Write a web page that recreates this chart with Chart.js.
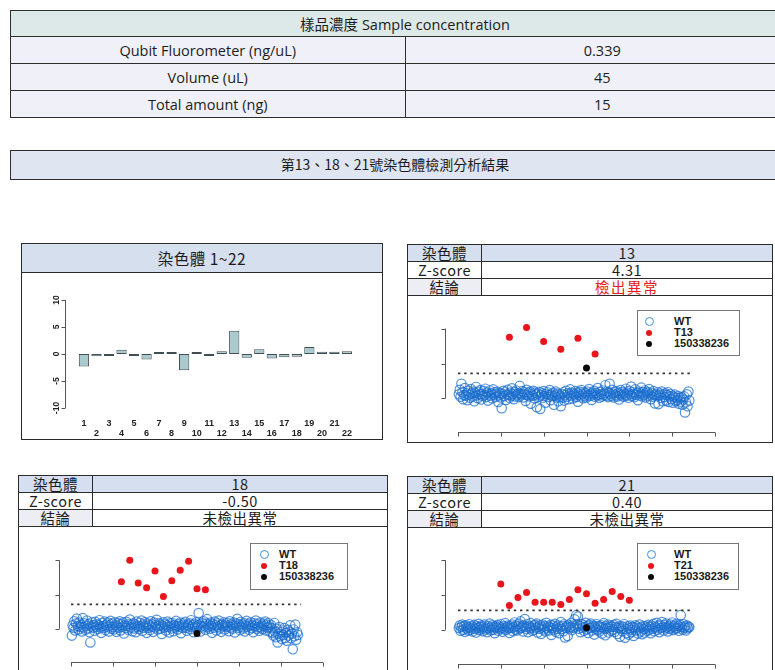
<!DOCTYPE html>
<html>
<head>
<meta charset="utf-8">
<script src="https://cdn.jsdelivr.net/npm/chart.js@4.4.0/dist/chart.umd.min.js"></script>
<style>
  body { margin:0; width:775px; height:670px; overflow:hidden; background:#fff; position:relative;
         font-family:"Noto Sans CJK TC","Noto Sans",sans-serif; color:#1c1c1c; }
  .conc { position:absolute; left:10px; width:790px; border-collapse:collapse; table-layout:fixed;
          border:1.5px solid #2e2e2e; font-family:"Open Sans","Noto Sans CJK TC",sans-serif; font-size:14.5px; }
  .conc td { border:1px solid #2e2e2e; text-align:center; padding:0; background:#f0f1f8; white-space:nowrap; }
  .conc td.hd { background:#dde9e8; }
  .banner { position:absolute; left:10px; top:150px; width:790px; height:30px; box-sizing:border-box;
            border:1.5px solid #2e2e2e; background:#dfe6f1; font-size:14px; line-height:27px;
            text-align:center; padding-right:20px; }
  .panel { position:absolute; border:1.5px solid #2b2b2b; box-sizing:border-box; background:#fff; }
  .bhd { height:28px; line-height:28px; background:#d6dfee; border-bottom:1px solid #2b2b2b;
         text-align:center; font-size:15.5px; letter-spacing:0.5px; }
  .info { width:100%; border-collapse:collapse; table-layout:fixed; }
  .info td { height:16px; line-height:16px; border-bottom:1px solid #2b2b2b; font-size:14.5px;
             text-align:center; padding:0; white-space:nowrap; letter-spacing:0.5px; }
  .info td.k { width:73px; border-right:1px solid #2b2b2b; }
  .info td.hd { background:#d5dff0; }
  .info td.sh { background:#eceef4; }
  .info td.alert { color:#e3201b; letter-spacing:1.5px; }
  canvas { position:absolute; }
  .legend { position:absolute; border:1px solid #777; background:#fff; box-sizing:border-box;
            padding-top:5px; font:bold 11px "Liberation Sans",Arial,sans-serif; color:#1a1a1a; }
  .legend div { height:11px; line-height:11px; position:relative; }
  .legend span { position:absolute; top:2px; border-radius:50%; box-sizing:border-box; }
  .legend .wt { width:9px; height:9px; border:1.5px solid #3a8fdc; top:1px; }
  .legend .tri { width:6px; height:6px; background:#e8151b; top:2.5px; }
  .legend .smp { width:6px; height:6px; background:#0b0b0b; top:2.5px; }
</style>
</head>
<body>

<table class="conc" style="top:10px">
  <tr style="height:26px"><td class="hd" colspan="2">樣品濃度 Sample concentration</td></tr>
  <tr style="height:27px"><td style="width:390px">Qubit Fluorometer (ng/uL)</td><td>0.339</td></tr>
  <tr style="height:27px"><td>Volume (uL)</td><td>45</td></tr>
  <tr style="height:27px"><td>Total amount (ng)</td><td>15</td></tr>
</table>

<div class="banner">第13、18、21號染色體檢測分析結果</div>

<div class="panel" style="left:21px;top:243px;width:362px;height:197px">
  <div class="bhd">染色體 1~22</div>
</div>

<div class="panel" style="left:407px;top:244px;width:366px;height:199px">
  <table class="info">
    <tr><td class="k hd">染色體</td><td class="hd">13</td></tr>
    <tr><td class="k">Z-score</td><td>4.31</td></tr>
    <tr><td class="k sh">結論</td><td class="alert">檢出異常</td></tr>
  </table>
</div>

<div class="panel" style="left:18px;top:475px;width:370px;height:210px">
  <table class="info">
    <tr><td class="k hd">染色體</td><td class="hd">18</td></tr>
    <tr><td class="k">Z-score</td><td>-0.50</td></tr>
    <tr><td class="k sh">結論</td><td>未檢出異常</td></tr>
  </table>
</div>

<div class="panel" style="left:407px;top:476px;width:366px;height:210px">
  <table class="info">
    <tr><td class="k hd">染色體</td><td class="hd">21</td></tr>
    <tr><td class="k">Z-score</td><td>0.40</td></tr>
    <tr><td class="k sh">結論</td><td>未檢出異常</td></tr>
  </table>
</div>

<canvas id="bars" width="361" height="167" style="left:21px;top:272px"></canvas>
<canvas id="chr13" width="364" height="145" style="left:408px;top:296px"></canvas>
<canvas id="chr18" width="368" height="143" style="left:19px;top:527px"></canvas>
<canvas id="chr21" width="364" height="143" style="left:408px;top:527px"></canvas>

<div class="legend" style="left:637px;top:310px;width:103px;height:46px">
  <div><span class="wt" style="left:7px"></span><span style="left:36px;position:absolute;top:0">WT</span></div>
  <div><span class="tri" style="left:8px"></span><span style="left:36px;position:absolute;top:0">T13</span></div>
  <div><span class="smp" style="left:8px"></span><span style="left:36px;position:absolute;top:0">150338236</span></div>
</div>
<div class="legend" style="left:250px;top:543px;width:98px;height:47px">
  <div><span class="wt" style="left:9px"></span><span style="left:28px;position:absolute;top:0">WT</span></div>
  <div><span class="tri" style="left:10px"></span><span style="left:28px;position:absolute;top:0">T18</span></div>
  <div><span class="smp" style="left:10px"></span><span style="left:28px;position:absolute;top:0">150338236</span></div>
</div>
<div class="legend" style="left:637px;top:543px;width:102px;height:47px">
  <div><span class="wt" style="left:9px"></span><span style="left:36px;position:absolute;top:0">WT</span></div>
  <div><span class="tri" style="left:10px"></span><span style="left:36px;position:absolute;top:0">T21</span></div>
  <div><span class="smp" style="left:10px"></span><span style="left:36px;position:absolute;top:0">150338236</span></div>
</div>

<script>
// z-scores of autosomes 1..22
const chromosomes = ['1','2','3','4','5','6','7','8','9','10','11','12','13','14','15','16','17','18','19','20','21','22'];
const chrZ = [-2.3, -0.4, -0.2, 0.8, -0.15, -1.0, 0.1, 0.1, -3.0, 0.05, -0.2, 0.5,
              4.31, -0.7, 0.9, -0.85, -0.6, -0.50, 1.3, 0.4, 0.40, 0.5];
const barTicks = [-10, -5, 0, 5, 10];

// reference (WT) samples, one value per sample index
const wt13 = [
  0.12, 0.25, 0.05, 0.42, 0.18, -0.02, 0.10, 0.30, 0.08, 0.15, -0.05, 0.22, 0.11, 0.02, 0.27,
  0.14, 0.06, 0.20, -0.08, 0.16, 0.33, 0.09, 0.01, 0.19, 0.12, 0.24, -0.03, 0.13, 0.07, 0.21,
  0.10, 0.28, 0.04, 0.17, -0.06, 0.12, 0.23, 0.08, 0.15, 0.00, 0.26, 0.11, 0.18, 0.05, 0.14,
  0.20, -0.10, 0.09, 0.16, 0.03, -0.28, 0.13, 0.22, 0.07, 0.18, -0.04, 0.12, 0.25, 0.10, 0.02,
  0.17, 0.08, 0.29, 0.13, -0.02, 0.19, 0.06, 0.23, 0.11, 0.15, 0.04, 0.36, 0.14, 0.09, 0.21,
  0.03, 0.18, 0.12, -0.07, 0.25, 0.10, 0.16, 0.06, 0.20, -0.15, 0.13, 0.08, 0.22, 0.01, 0.17,
  0.11, -0.25, 0.14, 0.05, 0.19, -0.30, 0.09, 0.15, 0.02, 0.21, 0.07, -0.12, 0.13, 0.18, 0.04,
  0.10, 0.24, -0.05, 0.12, 0.07, 0.16, -0.18, 0.09, 0.20, 0.03, 0.14, -0.08, 0.11, 0.06, -0.22,
  0.13, 0.02, 0.18, -0.06, 0.10, 0.22, 0.05, 0.15, -0.02, 0.12, 0.26, 0.08, 0.17, 0.00, 0.14,
  0.09, 0.21, 0.04, 0.16, -0.09, 0.11, 0.19, 0.06, 0.24, 0.13, 0.01, 0.18, 0.08, 0.15, 0.03,
  0.20, 0.10, 0.27, 0.07, 0.14, -0.04, 0.17, 0.12, 0.22, 0.05, 0.16, 0.09, 0.30, 0.11, 0.02,
  0.19, 0.13, 0.06, 0.23, 0.10, 0.15, 0.38, 0.08, 0.20, 0.04, 0.17, 0.42, 0.12, 0.07, 0.25,
  0.14, 0.03, 0.18, 0.10, 0.21, 0.06, 0.16, -0.03, 0.13, 0.24, 0.09, 0.19, 0.05, 0.15, 0.11,
  0.28, 0.08, 0.17, 0.02, 0.22, 0.12, 0.34, 0.07, 0.18, 0.13, 0.04, 0.26, 0.10, 0.16, -0.05,
  0.20, 0.09, 0.14, 0.31, 0.06, 0.18, 0.11, 0.23, 0.03, 0.15, 0.19, 0.08, 0.27, 0.12, -0.02,
  0.16, 0.05, 0.21, 0.10, -0.14, 0.13, 0.07, 0.18, -0.16, 0.09, 0.14, 0.02, 0.20, -0.08, 0.11,
  0.04, 0.15, -0.06, 0.10, 0.18, -0.10, 0.06, 0.13, -0.02, 0.08, -0.12, 0.05, 0.11, -0.07, 0.02,
  -0.05, 0.07, -0.15, 0.01, -0.09, 0.04, -0.18, -0.03, 0.06, -0.40, -0.11, 0.12, -0.22, 0.20, -0.06
];
const wt18 = [
  -0.20, 0.10, 0.02, 0.22, -0.05, 0.15, 0.30, 0.08, -0.02, 0.18, 0.05, 0.12, -0.08, 0.31, 0.04,
  0.16, -0.03, 0.09, 0.24, 0.01, 0.13, -0.10, -0.40, 0.07, 0.19, 0.03, 0.11, -0.06, 0.20, 0.06,
  0.14, -0.01, 0.10, 0.25, 0.04, -0.12, 0.17, 0.08, 0.02, 0.21, -0.04, 0.12, 0.06, 0.18, -0.08,
  0.09, 0.23, 0.00, 0.15, 0.05, -0.02, 0.19, 0.11, -0.09, 0.07, 0.16, 0.03, 0.22, -0.05, 0.12,
  0.06, 0.18, -0.14, 0.10, 0.02, 0.20, 0.08, -0.03, 0.14, 0.27, 0.04, 0.11, -0.07, 0.16, 0.01,
  0.13, -0.10, 0.21, 0.05, 0.09, -0.01, 0.17, 0.07, 0.24, -0.06, 0.12, 0.03, 0.19, 0.08, -0.12,
  0.15, 0.02, 0.10, -0.04, 0.22, 0.06, 0.13, -0.09, 0.18, 0.04, 0.11, 0.26, -0.02, 0.08, 0.16,
  0.00, 0.12, -0.15, 0.07, 0.19, 0.03, 0.14, -0.05, 0.10, 0.21, 0.05, -0.11, 0.16, 0.09, 0.01,
  0.17, -0.07, 0.11, 0.04, 0.23, 0.08, -0.02, 0.13, 0.06, 0.18, -0.13, 0.10, 0.02, 0.15, 0.07,
  0.20, 0.03, -0.06, 0.12, 0.09, 0.16, -0.01, 0.25, 0.05, 0.11, -0.10, 0.14, 0.06, 0.19, 0.02,
  0.10, 0.46, 0.13, -0.08, 0.07, 0.17, 0.04, 0.22, 0.09, -0.03, 0.15, 0.28, 0.06, 0.12, 0.00,
  0.18, 0.08, -0.12, 0.14, 0.03, 0.21, 0.10, -0.05, 0.16, 0.06, 0.24, 0.01, 0.11, -0.09, 0.13,
  0.07, 0.19, -0.02, 0.12, 0.05, 0.17, 0.09, -0.07, 0.22, 0.04, 0.14, 0.00, 0.10, 0.18, -0.11,
  0.08, 0.15, 0.29, 0.03, 0.12, -0.04, 0.20, 0.06, 0.13, 0.01, 0.17, -0.08, 0.10, 0.23, 0.05,
  0.14, -0.03, 0.09, 0.19, 0.02, 0.11, -0.10, 0.16, 0.07, 0.24, 0.00, 0.13, 0.05, -0.06, 0.18,
  0.04, 0.10, -0.01, 0.15, 0.08, 0.21, -0.05, 0.12, 0.03, 0.17, 0.06, -0.09, 0.11, 0.02, -0.12,
  -0.20, 0.17, -0.08, -0.25, 0.00, -0.40, -0.15, 0.05, -0.22, -0.10, -0.30, -0.05, -0.18, 0.02, -0.27,
  -0.12, -0.35, -0.03, -0.20, -0.08, 0.10, -0.28, -0.14, -0.60, -0.02, -0.22, 0.12, -0.32, -0.10, -0.18
];
const wt21 = [
  0.05, 0.12, -0.03, 0.08, 0.15, 0.00, 0.10, -0.06, 0.13, 0.04, 0.09, -0.02, 0.16, 0.06, 0.01,
  0.11, -0.05, 0.07, 0.14, 0.02, -0.08, 0.10, 0.05, 0.17, -0.01, 0.08, 0.12, 0.03, -0.04, 0.09,
  0.15, 0.01, 0.06, -0.07, 0.11, 0.04, 0.18, -0.02, 0.08, 0.13, 0.00, 0.07, -0.10, 0.10, 0.05,
  0.14, -0.03, 0.09, 0.02, 0.16, 0.06, -0.06, 0.11, 0.03, 0.19, -0.01, 0.08, 0.12, 0.04, -0.09,
  0.10, 0.05, 0.15, -0.04, 0.07, 0.21, 0.01, 0.12, -0.02, 0.09, 0.17, 0.03, 0.24, 0.06, 0.11,
  -0.05, 0.13, 0.31, 0.08, 0.02, 0.16, -0.07, 0.10, 0.04, 0.19, 0.07, -0.03, 0.12, 0.00, 0.14,
  0.06, 0.18, -0.08, 0.09, 0.03, 0.13, -0.12, 0.07, 0.15, 0.01, 0.10, -0.05, 0.20, 0.04, 0.11,
  -0.02, 0.08, 0.14, -0.15, 0.05, 0.12, 0.00, 0.17, -0.06, 0.09, 0.03, 0.13, -0.10, 0.07, 0.22,
  0.02, 0.11, -0.04, 0.16, -0.22, 0.06, 0.10, -0.18, 0.14, 0.04, 0.08, 0.19, -0.01, 0.12, 0.05,
  0.30, 0.09, 0.42, 0.15, 0.38, 0.03, 0.11, -0.07, 0.17, 0.06, 0.13, -0.03, 0.08, 0.20, 0.01,
  0.10, -0.09, 0.14, 0.05, 0.18, -0.02, 0.07, 0.12, -0.14, 0.09, 0.03, 0.16, 0.00, 0.11, -0.05,
  0.08, 0.13, -0.11, 0.06, 0.19, 0.02, -0.16, 0.10, 0.04, 0.15, -0.08, 0.07, 0.12, -0.03, 0.09,
  0.01, 0.14, -0.06, 0.08, 0.17, -0.12, 0.05, 0.10, -0.20, 0.03, 0.11, -0.04, 0.07, 0.16, -0.23,
  0.02, -0.09, 0.10, -0.14, 0.05, 0.12, -0.07, 0.00, 0.08, -0.18, 0.06, 0.13, -0.02, 0.09, -0.11,
  0.04, 0.15, -0.05, 0.07, -0.13, 0.11, 0.02, -0.08, 0.10, 0.06, -0.03, 0.14, 0.01, 0.08, -0.10,
  0.12, 0.03, 0.17, -0.04, 0.09, 0.06, 0.20, 0.00, 0.11, -0.07, 0.14, 0.05, 0.22, 0.08, -0.02,
  0.13, 0.04, 0.18, 0.07, -0.05, 0.10, 0.02, 0.15, 0.06, 0.21, -0.01, 0.09, 0.12, 0.03, 0.17,
  0.05, 0.11, -0.03, 0.14, 0.42, 0.08, 0.01, 0.16, 0.06, 0.10, -0.02, 0.13, 0.04, 0.09, 0.07
];

// known trisomy controls
const t13X = [60, 80, 100, 120, 140, 160];
const t13Y = [1.75, 2.03, 1.63, 1.41, 1.72, 1.27];
const t18X = [60, 70, 80, 90, 100, 110, 120, 130, 140, 150, 160];
const t18Y = [1.37, 2.00, 1.34, 1.20, 1.69, 0.94, 1.40, 1.71, 1.97, 1.17, 1.14];
const t21X = [50, 60, 70, 80, 90, 100, 110, 120, 130, 140, 150, 160, 170, 180, 190, 200];
const t21Y = [1.32, 0.70, 0.93, 1.07, 0.79, 0.79, 0.79, 0.73, 0.87, 1.15, 1.04, 0.76, 0.87, 1.10, 0.96, 0.85];

// this sample (150338236) and the cut-off per chromosome
const sampleX = 150;
const sample13 = 0.87, sample18 = -0.14, sample21 = 0.06;
const cut13 = 0.72, cut18 = 0.71, cut21 = 0.56;
const cutRange = [0, 274];

const xTicks = [0, 50, 100, 150, 200, 250, 300];
const yTicks = [0, 1, 2];

// R-style axes: lines only between first and last tick
const rFrame = {
  id: 'rFrame',
  afterDraw(chart) {
    const { ctx, chartArea: a } = chart;
    const x = chart.scales.x, y = chart.scales.y;
    ctx.save();
    ctx.strokeStyle = '#555';
    ctx.lineWidth = 1;
    ctx.beginPath();
    const by = Math.round(a.bottom) + 0.5;
    ctx.moveTo(x.getPixelForValue(xTicks[0]), by);
    ctx.lineTo(x.getPixelForValue(xTicks[xTicks.length - 1]), by);
    xTicks.forEach(v => {
      const px = Math.round(x.getPixelForValue(v)) + 0.5;
      ctx.moveTo(px, by);
      ctx.lineTo(px, by + 4);
    });
    const lx = Math.round(a.left) + 0.5;
    ctx.moveTo(lx, y.getPixelForValue(yTicks[0]));
    ctx.lineTo(lx, y.getPixelForValue(yTicks[yTicks.length - 1]));
    yTicks.forEach(v => {
      const py = Math.round(y.getPixelForValue(v)) + 0.5;
      ctx.moveTo(lx, py);
      ctx.lineTo(lx - 4, py);
    });
    ctx.stroke();
    ctx.restore();
  }
};

function pts(xs, ys) {
  return xs.map((x, i) => ({ x: x, y: ys[i] }));
}

function drawPanel(id, wt, triX, triY, sample, cut, frame) {
  new Chart(document.getElementById(id), {
    type: 'scatter',
    data: {
      datasets: [
        { label: '150338236', data: [{ x: sampleX, y: sample }], order: 0,
          pointRadius: 3.5, backgroundColor: '#0b0b0b', borderWidth: 0 },
        { label: 'T', data: pts(triX, triY), order: 1,
          pointRadius: 3.5, backgroundColor: '#e8151b', borderWidth: 0 },
        { type: 'line', label: 'cut', data: [{ x: cutRange[0], y: cut }, { x: cutRange[1], y: cut }], order: 2,
          borderColor: '#333', borderWidth: 1.8, borderDash: [2.4, 3.8], pointRadius: 0 },
        { label: 'WT', data: wt.map((v, i) => ({ x: i + 1, y: v })), order: 3,
          pointRadius: 4.7, backgroundColor: 'rgba(0,0,0,0)', borderColor: 'rgba(24,108,205,0.75)', borderWidth: 1.2 }
      ]
    },
    options: {
      responsive: false,
      animation: false,
      layout: { padding: frame.pad },
      scales: {
        x: { type: 'linear', display: false, min: frame.x[0], max: frame.x[1] },
        y: { type: 'linear', display: false, min: frame.y[0], max: frame.y[1] }
      },
      plugins: { legend: { display: false }, tooltip: { enabled: false } }
    },
    plugins: [rFrame]
  });
}

drawPanel('chr13', wt13, t13X, t13Y, sample13, cut13,
  { pad: { left: 37, right: 42, top: 4, bottom: 9 }, x: [-15.17, 317.5], y: [-0.958, 2.761] });
drawPanel('chr18', wt18, t18X, t18Y, sample18, cut18,
  { pad: { left: 40, right: 49, top: 3, bottom: 8 }, x: [-14.29, 317.86], y: [-0.971, 2.8] });
drawPanel('chr21', wt21, t21X, t21Y, sample21, cut21,
  { pad: { left: 37, right: 42, top: 3, bottom: 6 }, x: [-15.17, 317.5], y: [-0.986, 2.789] });

// bar chart axes: rotated y labels, staggered chromosome numbers
const barAxes = {
  id: 'barAxes',
  afterDraw(chart) {
    const ctx = chart.ctx, x = chart.scales.x, y = chart.scales.y;
    const ax = Math.round(chart.chartArea.left - 13) + 0.5;
    ctx.save();
    ctx.strokeStyle = '#555';
    ctx.lineWidth = 1;
    ctx.beginPath();
    ctx.moveTo(ax, y.getPixelForValue(barTicks[0]));
    ctx.lineTo(ax, y.getPixelForValue(barTicks[barTicks.length - 1]));
    barTicks.forEach(v => {
      const py = Math.round(y.getPixelForValue(v)) + 0.5;
      ctx.moveTo(ax, py);
      ctx.lineTo(ax - 4, py);
    });
    ctx.stroke();
    ctx.fillStyle = '#222';
    ctx.font = 'bold 8.5px "Liberation Sans", Arial, sans-serif';
    ctx.textAlign = 'center';
    ctx.textBaseline = 'middle';
    barTicks.forEach(v => {
      ctx.save();
      ctx.translate(ax - 9, y.getPixelForValue(v));
      ctx.rotate(-Math.PI / 2);
      ctx.fillText(String(v), 0, 0);
      ctx.restore();
    });
    ctx.font = 'bold 9px "Liberation Sans", Arial, sans-serif';
    const base = y.getPixelForValue(barTicks[0]);
    chromosomes.forEach((c, i) => {
      ctx.fillText(c, x.getPixelForValue(i), base + (i % 2 ? 26 : 16));
    });
    ctx.restore();
  }
};

new Chart(document.getElementById('bars'), {
  type: 'bar',
  data: {
    labels: chromosomes,
    datasets: [{
      data: chrZ,
      backgroundColor: '#abcacf',
      borderColor: '#3f4f52',
      borderWidth: 1,
      borderSkipped: false,
      minBarLength: 2,
      barPercentage: 0.82,
      categoryPercentage: 1
    }]
  },
  options: {
    responsive: false,
    animation: false,
    layout: { padding: { left: 56.7, right: 28.8, top: 17.2, bottom: 9.4 } },
    scales: {
      x: { display: false },
      y: { display: false, min: -14, max: 12 }
    },
    plugins: { legend: { display: false }, tooltip: { enabled: false } }
  },
  plugins: [barAxes]
});
</script>
</body>
</html>
